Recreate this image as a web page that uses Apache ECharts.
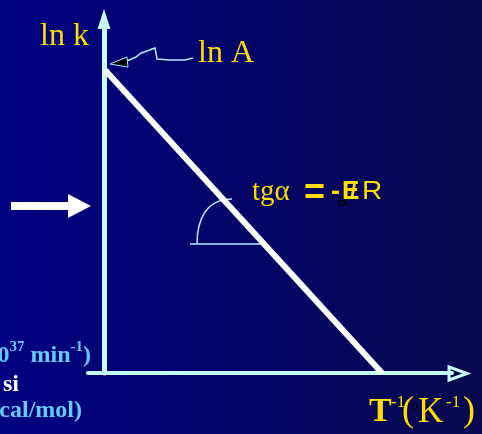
<!DOCTYPE html>
<html>
<head>
<meta charset="utf-8">
<script src="https://cdn.jsdelivr.net/npm/echarts@6/dist/echarts.min.js"></script>
<style>
  html, body { margin: 0; padding: 0; }
  body { background: linear-gradient(to right, #000082, #08084e); }
  #container { width: 482px; height: 434px; }
</style>
</head>
<body>
<div id="container"></div>
<script>
// Arrhenius plot: ln k against 1/T (arbitrary units)
const invT = [1, 278]
const lnK = [303, 0]

const yellow = '#ffdd00'
const cyan = '#c4fcff'
const thin = '#b4ecff'
const lightBlue = '#66ccff'
const serif = '"Liberation Serif", "Times New Roman", serif'
const sans = '"Liberation Sans", Arial, sans-serif'

const myChart = echarts.init(document.getElementById('container'))

function label(text, x, y, font, fill, extra) {
  return Object.assign({
    type: 'text', x: x, y: y, z: 10,
    style: { text: text, font: font, fill: fill }
  }, extra || {})
}

myChart.setOption({
  backgroundColor: 'transparent',
  animation: false,
  grid: { left: 88, right: 30, top: 19, bottom: 61 },
  xAxis: {
    type: 'value',
    min: -16,
    max: 348,
    axisLine: { lineStyle: { color: cyan, width: 4 } },
    axisTick: { show: false },
    axisLabel: { show: false },
    splitLine: { show: false }
  },
  yAxis: {
    type: 'value',
    min: 0,
    max: 354,
    axisLine: {
      lineStyle: { color: cyan, width: 5 },
      symbol: ['none', 'triangle'],
      symbolSize: [13, 20]
    },
    axisTick: { show: false },
    axisLabel: { show: false },
    splitLine: { show: false }
  },
  series: [
    {
      type: 'line',
      symbol: 'none',
      z: 5,
      lineStyle: { color: '#ffffff', width: 6 },
      data: invT.map((x, i) => [x, lnK[i]])
    }
  ],
  graphic: [
    // x axis hollow arrow head
    {
      type: 'polygon',
      shape: { points: [[449, 367], [467, 373.5], [449, 380]] },
      style: { fill: '#06064a', stroke: cyan, lineWidth: 3 }
    },
    // left arrow
    {
      type: 'polygon',
      shape: { points: [[11, 202], [68, 202], [68, 194], [91, 206], [68, 218], [68, 210], [11, 210]] },
      style: { fill: '#ffffff' }
    },
    // ln A pointer
    {
      type: 'polyline',
      shape: { points: [[127, 61], [136, 57], [141, 53], [147, 51], [152, 49], [155, 48], [156, 53], [157, 59], [170, 60], [185, 60], [193, 58]] },
      style: { stroke: thin, lineWidth: 1.5, fill: null }
    },
    {
      type: 'polygon',
      shape: { points: [[110, 64], [127, 57], [128, 67]] },
      style: { fill: '#000000', stroke: thin, lineWidth: 1 }
    },
    // angle mark
    {
      type: 'line',
      shape: { x1: 190, y1: 244, x2: 262, y2: 244 },
      style: { stroke: thin, lineWidth: 1.5 }
    },
    {
      type: 'bezierCurve',
      shape: { x1: 197, y1: 244, cpx1: 197, cpy1: 216, cpx2: 209, cpy2: 202, x2: 224, y2: 200 },
      style: { stroke: thin, lineWidth: 1.5, fill: null }
    },
    {
      type: 'line',
      shape: { x1: 219, y1: 200, x2: 232, y2: 199 },
      style: { stroke: thin, lineWidth: 1.5 }
    },
    // axis titles
    label('ln k', 40, 21, '32px ' + serif, yellow),
    label('ln A', 198, 38, '32px ' + serif, yellow),
    // slope
    label('tgα', 252, 178, '29px ' + serif, yellow),
    label('=', 304, 176, 'bold 36px ' + sans, yellow),
    label('-', 331, 179, 'bold 27px ' + sans, yellow),
    label('a', 337, 192, '18px ' + sans, '#000000'),
    label('E', 342, 179, 'bold 26px ' + sans, yellow),
    label('/', 350, 180, 'bold 24px ' + sans, yellow),
    label('R', 362, 179, '26px ' + sans, yellow, { scaleX: 1.08, originX: 0 }),
    // T^-1 (K^-1)
    label('T', 369, 395, 'bold 34px ' + serif, yellow),
    label('-1', 391, 394, '17px ' + serif, yellow),
    label('(', 402, 394, '36px ' + serif, yellow),
    label('o', 411, 399, '14px ' + serif, '#000000'),
    label('K', 418, 395, '35px ' + serif, yellow),
    label('-1', 446, 394, '17px ' + serif, yellow),
    label(')', 463, 394, '36px ' + serif, yellow),
    // cut-off legend text on the left
    {
      type: 'text', x: 91, y: 340, z: 10,
      style: {
        text: '{m|0}{s|37}{m| min}{s|-1}{m|)}',
        align: 'right',
        rich: {
          m: { font: 'bold 24px ' + serif, fill: lightBlue, lineHeight: 28, verticalAlign: 'bottom' },
          s: { font: 'bold 15px ' + serif, fill: lightBlue, lineHeight: 17, verticalAlign: 'top' }
        }
      }
    },
    label('si', 19, 373, 'bold 24px ' + serif, '#ffffff', { style: { text: 'si', font: 'bold 24px ' + serif, fill: '#ffffff', align: 'right' } }),
    label('cal/mol)', 82, 399, 'bold 24px ' + serif, lightBlue, { style: { text: 'cal/mol)', font: 'bold 24px ' + serif, fill: lightBlue, align: 'right' } })
  ]
})
</script>
</body>
</html>
